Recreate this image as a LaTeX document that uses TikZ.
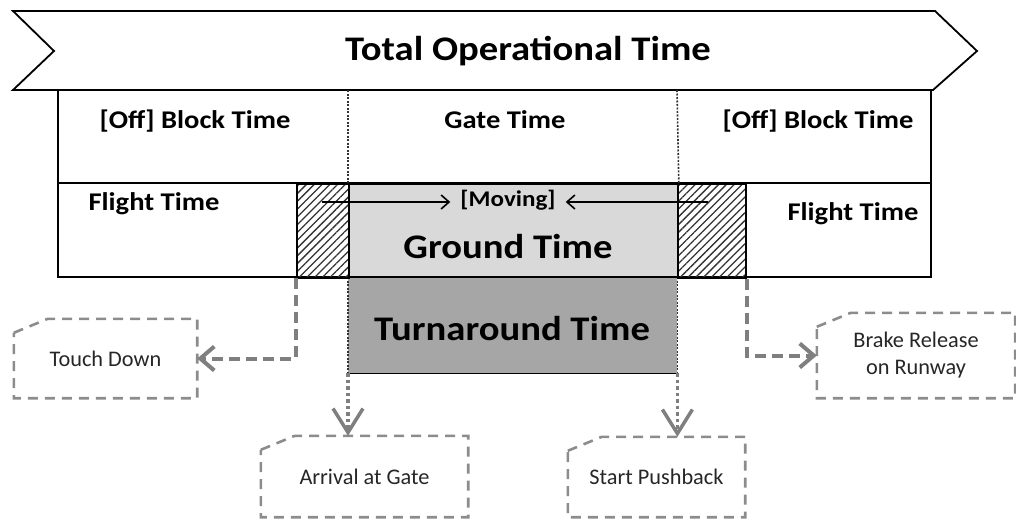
\documentclass[tikz,border=0pt]{standalone}
\usepackage{fontspec}
\setmainfont{Carlito}[BoldFeatures={FakeStretch=1.12}]
\usepackage{tikz}
\usetikzlibrary{positioning,calc,arrows.meta,patterns.meta}
\definecolor{groundgray}{HTML}{D9D9D9}
\definecolor{turngray}{HTML}{A6A6A6}
\definecolor{linkgray}{HTML}{7F7F7F}
\definecolor{boxgray}{HTML}{8C8C8C}
\newcommand{\chambox}[1]{\draw[dashbox] ([yshift=-14pt]#1.north west) -- ([xshift=34pt]#1.north west) -- (#1.north east) -- (#1.south east) -- (#1.south west) -- cycle;}

\begin{document}
\begin{tikzpicture}
[x=1pt,y=-1pt,
 frame/.style={draw=black,line width=1.8pt},
 hatchbox/.style={frame,inner sep=0pt,anchor=north west,pattern={Lines[angle=45,distance=5.5pt,line width=1.3pt]},pattern color=black!80},
 celltext/.style={anchor=base,font=\fontsize{25.5}{30}\selectfont\bfseries},
 bigtext/.style={font=\fontsize{34.5}{40}\selectfont\bfseries},
 eventbox/.style={inner sep=0pt,align=center,text=black!85,font=\fontsize{22.3}{27}\selectfont},
 dashbox/.style={draw=boxgray,line width=2.6pt,dash pattern=on 10pt off 7pt},
 dashlink/.style={draw=linkgray,line width=4pt,dash pattern=on 11pt off 6pt,-{Straight Barb[length=14pt,width=24pt]}},
 dotlink/.style={draw=linkgray,line width=3.5pt,dash pattern=on 3.5pt off 3pt,-{Straight Barb[length=24pt,width=30pt]}},
 dotsep/.style={draw=black!80,line width=1.6pt,dash pattern=on 2pt off 1.5pt},
 movearrow/.style={draw=black,line width=1.6pt,-{Straight Barb[length=8pt,width=14pt]}}]
\useasboundingbox (0,0) rectangle (1016,522);
\draw[frame,line join=miter] (13,11) -- (935,11) -- (977,51) -- (933,90) -- (13,90) -- (54,51) -- cycle;
\draw (528,60) node[anchor=base,font=\fontsize{34.5}{40}\selectfont\bfseries] (total) {Total Operational Time};
\draw[frame] (58,90) rectangle (931,277);
\draw[frame] (58,183) -- (931,183);
\node[frame,fill=groundgray,inner sep=0pt,anchor=north west,minimum width=329pt,minimum height=94pt] (ground) at (348,183) {};
\node[fill=turngray,inner sep=0pt,anchor=north west,minimum width=329pt,minimum height=96pt] (turn) at (348,277) {};
\draw[frame] (turn.north west) -- (turn.north east);
\draw[frame] (turn.south west) -- (turn.south east);
\draw[dotsep] (turn.north west) -- (turn.south west);
\draw[dotsep] (turn.north east) -- (turn.south east);
\draw[dotsep] (348,90) -- (ground.north west);
\draw[dotsep] (677,90) -- (ground.north east);
\node[hatchbox,minimum width=52pt,minimum height=94pt] (hatchL) at (296,183) {};
\node[hatchbox,minimum width=68pt,minimum height=94pt] (hatchR) at (677,183) {};
\draw (195,128) node[celltext] (blockL) {[Off] Block Time};
\draw (505,128) node[celltext] (gate) {Gate Time};
\draw (818,128) node[celltext] (blockR) {[Off] Block Time};
\draw (154,210) node[celltext] (flightL) {Flight Time};
\draw (853,220) node[celltext] (flightR) {Flight Time};
\draw (508,258) node[anchor=base,bigtext] (groundtxt) {Ground Time};
\draw (512,340) node[anchor=base,bigtext] (turntxt) {Turnaround Time};
\draw (508,206) node[anchor=base,inner xsep=10pt,font=\fontsize{22.4}{26}\selectfont\bfseries] (moving) {[Moving]};
\coordinate (mvL) at (322,202);
\coordinate (mvR) at (708,202);
\draw[movearrow] (mvL) -- (mvL -| moving.west);
\draw[movearrow] (mvR) -- (mvR -| moving.east);
\node[eventbox,minimum width=183pt,minimum height=79pt] (touch) at (105.5,358.5) {Touch Down};
\node[eventbox,minimum width=198pt,minimum height=85pt] (brake) at (916,355.5) {Brake Release\\on Runway};
\node[eventbox,minimum width=207pt,minimum height=81pt] (arrival) at (364.5,476.5) {Arrival at Gate};
\node[eventbox,minimum width=177pt,minimum height=80pt] (pushback) at (656.5,477) {Start Pushback};
\chambox{touch}
\chambox{brake}
\chambox{arrival}
\chambox{pushback}
\draw[dashlink] (hatchL.south west) |- (touch.east);
\draw[dashlink] (hatchR.south east) |- (brake.west);
\draw[dotlink] (turn.south west) -- (turn.south west |- arrival.north);
\draw[dotlink] (turn.south east) -- (turn.south east |- pushback.north);
\end{tikzpicture}
\end{document}
